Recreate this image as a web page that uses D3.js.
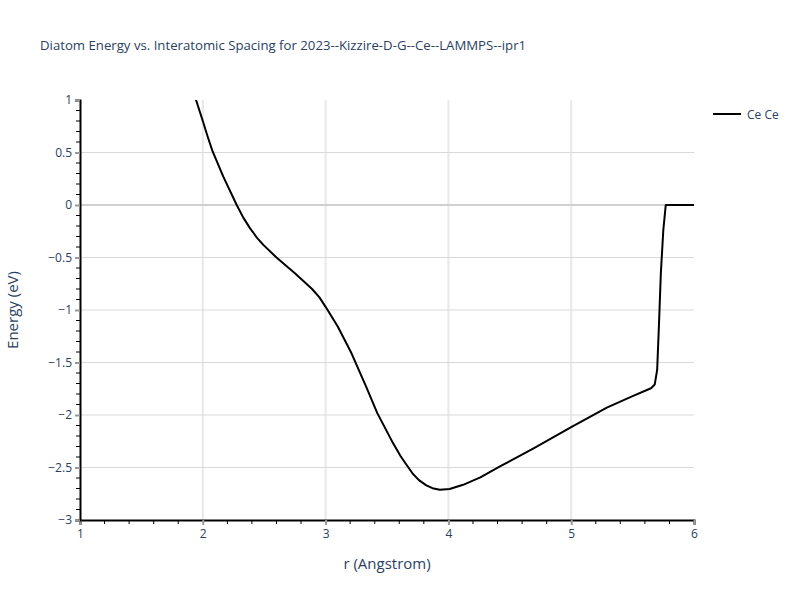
<!DOCTYPE html>
<html lang="en">
<head>
  <meta charset="utf-8">
  <title>Diatom Energy vs. Interatomic Spacing</title>
  <script src="https://cdn.jsdelivr.net/npm/d3@7/dist/d3.min.js"></script>
  <style>
    body { margin: 0; background: white; }
    svg { font-family: "Open Sans", verdana, arial, sans-serif; }
  </style>
</head>
<body>
  <svg id="chart" width="800" height="600"></svg>

  <script>
    // Values
    const rValues = [1.90, 1.945, 2.0, 2.04, 2.08, 2.167, 2.276, 2.33, 2.384, 2.44, 2.493, 2.6, 2.75, 2.89,
                     2.95, 3.0, 3.1, 3.21, 3.33, 3.42, 3.55, 3.61, 3.65, 3.71, 3.76, 3.82, 3.87, 3.93, 4.01,
                     4.12, 4.26, 4.42, 4.69, 4.91, 5.0, 5.29, 5.5, 5.65, 5.68, 5.70,
                     5.715, 5.73, 5.75, 5.77, 6.0];
    const energyValues = [1.17, 1.0, 0.80, 0.65, 0.51, 0.27, 0.0, -0.12, -0.22, -0.31, -0.38, -0.5, -0.65, -0.80,
                          -0.88, -0.97, -1.16, -1.41, -1.73, -1.98, -2.27, -2.39, -2.46, -2.56, -2.62, -2.67, -2.697, -2.712, -2.705,
                          -2.665, -2.594, -2.49, -2.32, -2.175, -2.115, -1.93, -1.82, -1.745, -1.71, -1.57,
                          -1.13, -0.65, -0.24, 0.0, 0.0];
    const xTicks = [1, 2, 3, 4, 5, 6];
    const yTicks = [1, 0.5, 0, -0.5, -1, -1.5, -2, -2.5, -3];
    const seriesName = "Ce Ce";
    const titleText = "Diatom Energy vs. Interatomic Spacing for 2023--Kizzire-D-G--Ce--LAMMPS--ipr1";

    const data = rValues.map((r, i) => ({ r: r, e: energyValues[i] }));

    const svg = d3.select("#chart");
    const margin = { left: 80, right: 106, top: 100, bottom: 80 };
    const W = 800, H = 600;
    const textColor = "#2a3f5f";

    const x = d3.scaleLinear().domain([1, 6]).range([margin.left, W - margin.right]);
    const y = d3.scaleLinear().domain([-3, 1]).range([H - margin.bottom, margin.top]);

    // gridlines
    const grid = svg.append("g");
    grid.selectAll("line.vg")
      .data(xTicks.filter(t => t > 1 && t < 6))
      .enter().append("line")
        .attr("x1", d => x(d)).attr("x2", d => x(d))
        .attr("y1", y(1)).attr("y2", y(-3))
        .attr("stroke", "#e8e8e8").attr("stroke-width", 2);
    grid.selectAll("line.hg")
      .data(yTicks.filter(t => t > -3 && t < 1 && t !== 0))
      .enter().append("line")
        .attr("x1", x(1)).attr("x2", x(6))
        .attr("y1", d => y(d)).attr("y2", d => y(d))
        .attr("stroke", "#d9d9d9").attr("stroke-width", 1);
    // zero line
    grid.append("line")
      .attr("x1", x(1)).attr("x2", x(6))
      .attr("y1", y(0)).attr("y2", y(0))
      .attr("stroke", "#d0d0d0").attr("stroke-width", 2);

    // clip for the curve
    svg.append("clipPath").attr("id", "plot-clip")
      .append("rect")
        .attr("x", x(1)).attr("y", y(1))
        .attr("width", x(6) - x(1)).attr("height", y(-3) - y(1));

    const line = d3.line().x(d => x(d.r)).y(d => y(d.e));
    svg.append("path")
      .datum(data)
      .attr("clip-path", "url(#plot-clip)")
      .attr("d", line)
      .attr("fill", "none")
      .attr("stroke", "black")
      .attr("stroke-width", 2)
      .attr("stroke-linejoin", "round");

    // minor ticks
    const xMinor = d3.range(1, 6.0001, 0.2).filter(v => Math.abs(v - Math.round(v)) > 1e-6);
    const yMinor = d3.range(-3, 1.0001, 0.1).filter(v => Math.abs(v * 2 - Math.round(v * 2)) > 1e-6);

    svg.append("g").selectAll("line")
      .data(xMinor).enter().append("line")
        .attr("x1", d => x(d)).attr("x2", d => x(d))
        .attr("y1", y(-3)).attr("y2", y(-3) + 4)
        .attr("stroke", "black").attr("stroke-width", 1);
    svg.append("g").selectAll("line")
      .data(yMinor).enter().append("line")
        .attr("x1", x(1) - 4).attr("x2", x(1))
        .attr("y1", d => y(d)).attr("y2", d => y(d))
        .attr("stroke", "black").attr("stroke-width", 1);

    // x axis
    const xAxis = svg.append("g")
      .attr("transform", `translate(0,${y(-3)})`)
      .call(d3.axisBottom(x).tickValues(xTicks).tickSize(5).tickPadding(4).tickFormat(d3.format("d")));
    xAxis.select(".domain").attr("stroke", "black").attr("stroke-width", 2);
    xAxis.selectAll(".tick line").attr("stroke", "#999").attr("stroke-width", 2);
    xAxis.selectAll(".tick text").attr("fill", textColor).attr("font-size", 12)
      .attr("font-family", "\"Open Sans\", verdana, arial, sans-serif");

    // y axis
    const yAxis = svg.append("g")
      .attr("transform", `translate(${x(1)},0)`)
      .call(d3.axisLeft(y).tickValues(yTicks).tickSize(5).tickPadding(3)
        .tickFormat(d => d3.format("")(d).replace("-", "\u2212")));
    yAxis.select(".domain").attr("stroke", "black").attr("stroke-width", 2);
    yAxis.selectAll(".tick line").attr("stroke", "#999").attr("stroke-width", 2);
    yAxis.selectAll(".tick text").attr("fill", textColor).attr("font-size", 12)
      .attr("font-family", "\"Open Sans\", verdana, arial, sans-serif");

    // titles
    svg.append("text")
      .attr("x", 40).attr("y", 50)
      .attr("fill", textColor).attr("font-size", 13.2)
      .text(titleText);

    svg.append("text")
      .attr("x", (x(1) + x(6)) / 2).attr("y", 569)
      .attr("text-anchor", "middle")
      .attr("fill", textColor).attr("font-size", 15)
      .text("r (Angstrom)");

    svg.append("text")
      .attr("transform", `translate(18,${(y(1) + y(-3)) / 2}) rotate(-90)`)
      .attr("text-anchor", "middle")
      .attr("fill", textColor).attr("font-size", 15)
      .text("Energy (eV)");

    // legend
    const legend = svg.append("g").attr("transform", "translate(713,114)");
    legend.append("line")
      .attr("x1", 0).attr("x2", 28).attr("y1", 0).attr("y2", 0)
      .attr("stroke", "black").attr("stroke-width", 2);
    legend.append("text")
      .attr("x", 34).attr("y", 4.5)
      .attr("fill", textColor).attr("font-size", 12)
      .text(seriesName);
  </script>
</body>
</html>
